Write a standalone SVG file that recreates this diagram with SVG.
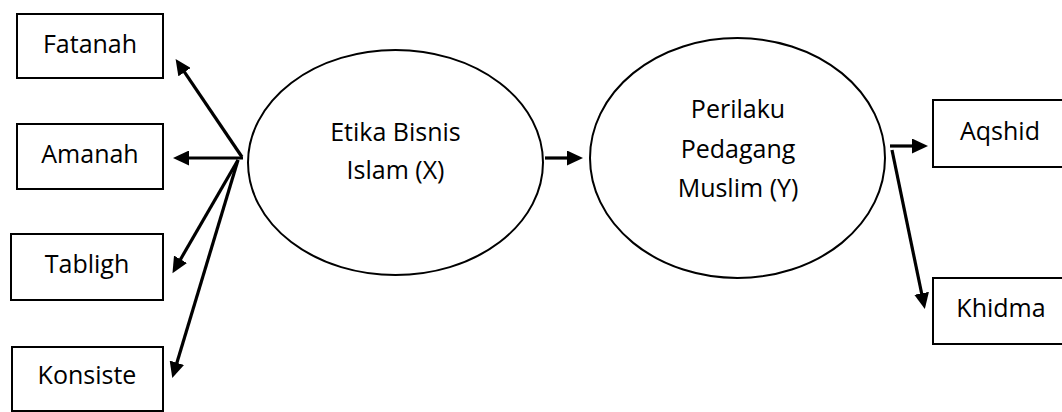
<svg xmlns="http://www.w3.org/2000/svg" width="1062" height="412" viewBox="0 0 1062 412">
<style>
.box{fill:#fff;stroke:#000;stroke-width:2}
.ell{fill:#fff;stroke:#000;stroke-width:2}
.t{font-family:"Open Sans","Liberation Sans",sans-serif;font-size:25px;fill:#000;text-anchor:middle}
.c{stroke:#000;stroke-width:3.2;fill:none;marker-end:url(#ah)}
</style>
<defs>
<marker id="ah" markerUnits="userSpaceOnUse" markerWidth="17" markerHeight="15" refX="1" refY="7.5" orient="auto">
<path d="M0,0 L16,7.5 L0,15 z" fill="#000"/>
</marker>
</defs>
<rect width="1062" height="412" fill="#fff"/>
<g id="fatanah"><rect class="box" x="17" y="14" width="146" height="64"/><text class="t" x="90" y="53">Fatanah</text></g>
<g id="amanah"><rect class="box" x="17" y="124" width="146" height="65"/><text class="t" x="90" y="163">Amanah</text></g>
<g id="tabligh"><rect class="box" x="11" y="234" width="152" height="66"/><text class="t" x="87" y="273">Tabligh</text></g>
<g id="konsiste"><rect class="box" x="12" y="347" width="151" height="64"/><text class="t" x="87" y="384">Konsiste</text></g>
<g id="etika"><ellipse class="ell" cx="395.5" cy="162.5" rx="147.5" ry="112.5"/><text class="t" x="395.5" y="141">Etika Bisnis</text><text class="t" x="395.5" y="179">Islam (X)</text></g>
<g id="perilaku"><ellipse class="ell" cx="737.5" cy="158" rx="147.5" ry="120"/><text class="t" x="738" y="118">Perilaku</text><text class="t" x="738" y="158">Pedagang</text><text class="t" x="738" y="197">Muslim (Y)</text></g>
<g id="aqshid"><rect class="box" x="933" y="100" width="140" height="67"/><text class="t" x="1000" y="140">Aqshid</text></g>
<g id="khidma"><rect class="box" x="933" y="278" width="140" height="66"/><text class="t" x="1001" y="317">Khidma</text></g>
<g id="connectors">
<line class="c" x1="242" y1="157" x2="184" y2="71.3"/>
<line class="c" x1="243" y1="158" x2="188" y2="158"/>
<line class="c" x1="238" y1="160" x2="180" y2="260.2"/>
<line class="c" x1="238" y1="160" x2="176.6" y2="363.7"/>
<line class="c" x1="545" y1="158" x2="568" y2="158"/>
<line class="c" x1="890" y1="146" x2="913" y2="146"/>
<line class="c" x1="892" y1="150" x2="921.8" y2="294.3"/>
</g>
</svg>
